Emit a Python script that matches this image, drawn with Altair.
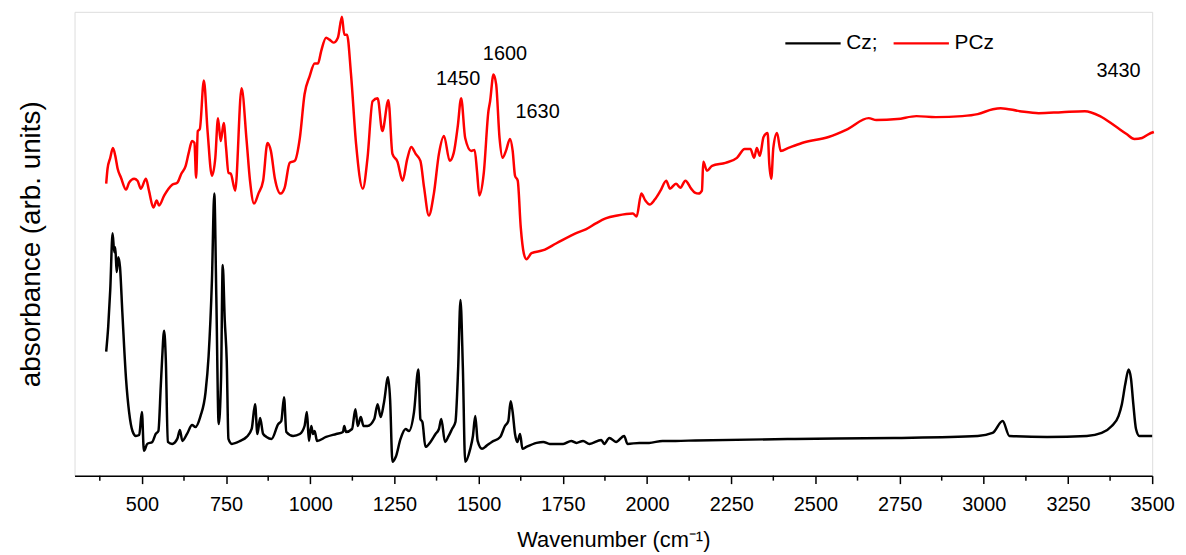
import altair as alt
import pandas as pd

# Cz (black) spectrum: wavenumber (cm-1) and absorbance (arb. units)
cz_wn = [394, 400, 406, 413, 418, 421, 425, 430, 435, 442, 453, 462, 472, 482, 492, 500, 506, 516, 531, 541,
         549, 556, 560, 566, 571, 577, 590, 605, 613, 620, 634, 649, 659, 674, 689, 698, 708, 715, 721, 728,
         735, 740, 746, 752, 757, 767, 792, 811, 826, 836, 843, 851, 860, 870, 885, 905, 914, 922, 929, 949,
         969, 983, 990, 996, 1003, 1008, 1013, 1020, 1047, 1077, 1097, 1101, 1106, 1124, 1134, 1141, 1150, 1158, 1170, 1190,
         1200, 1209, 1219, 1231, 1237, 1244, 1254, 1268, 1283, 1293, 1308, 1321, 1327, 1333, 1342, 1357, 1372, 1382, 1389, 1400,
         1411, 1421, 1431, 1439, 1446, 1453, 1460, 1475, 1483, 1490, 1497, 1510, 1523, 1539, 1564, 1578, 1588, 1595, 1601, 1608,
         1615, 1623, 1630, 1642, 1672, 1692, 1711, 1751, 1775, 1790, 1810, 1829, 1864, 1873, 1888, 1908, 1932, 1942, 1977, 2006,
         2046, 2085, 2144, 2439, 2734, 2982, 3026, 3056, 3076, 3188, 3306, 3350, 3380, 3400, 3410, 3420, 3430, 3437, 3444, 3452,
         3462, 3500]
cz_abs = [1.25, 1.50, 1.87, 2.44, 2.25, 2.30, 2.05, 2.20, 2.10, 1.64, 0.97, 0.64, 0.45, 0.40, 0.41, 0.64, 0.25, 0.32, 0.34, 0.42,
          0.45, 0.90, 1.17, 1.46, 1.17, 0.34, 0.32, 0.37, 0.46, 0.35, 0.42, 0.51, 0.49, 0.60, 0.84, 1.20, 1.97, 2.84, 1.80, 0.52,
          0.97, 2.12, 1.57, 1.15, 0.37, 0.32, 0.35, 0.39, 0.47, 0.72, 0.42, 0.58, 0.42, 0.39, 0.37, 0.52, 0.55, 0.79, 0.44, 0.40,
          0.42, 0.50, 0.64, 0.35, 0.50, 0.42, 0.45, 0.35, 0.39, 0.42, 0.44, 0.50, 0.44, 0.47, 0.67, 0.50, 0.59, 0.50, 0.50, 0.57,
          0.72, 0.59, 0.74, 0.99, 0.77, 0.14, 0.19, 0.37, 0.47, 0.45, 0.64, 1.07, 0.57, 0.54, 0.29, 0.34, 0.42, 0.47, 0.57, 0.34,
          0.40, 0.47, 0.54, 1.07, 1.77, 1.10, 0.14, 0.27, 0.40, 0.60, 0.35, 0.27, 0.30, 0.34, 0.39, 0.50, 0.55, 0.75, 0.64, 0.42,
          0.34, 0.42, 0.27, 0.29, 0.33, 0.34, 0.32, 0.32, 0.35, 0.33, 0.35, 0.32, 0.36, 0.32, 0.38, 0.34, 0.40, 0.32, 0.33, 0.33,
          0.35, 0.35, 0.355, 0.37, 0.38, 0.40, 0.43, 0.55, 0.40, 0.39, 0.40, 0.43, 0.50, 0.60, 0.72, 0.92, 1.07, 0.98, 0.72, 0.47,
          0.40, 0.40]

# PCz (red) spectrum
pcz_wn = [394, 398, 406, 414, 421, 428, 438, 453, 462, 477, 487, 497, 512, 521, 534, 544, 551, 566, 590, 605,
          617, 630, 639, 649, 656, 661, 666, 672, 684, 695, 708, 718, 726, 734, 743, 750, 757, 764, 777, 796,
          811, 821, 833, 846, 860, 873, 883, 895, 912, 924, 939, 954, 969, 983, 998, 1013, 1023, 1032, 1047, 1057,
          1069, 1082, 1094, 1101, 1109, 1121, 1136, 1156, 1170, 1185, 1200, 1214, 1232, 1244, 1259, 1274, 1288, 1300, 1313, 1327,
          1338, 1352, 1367, 1382, 1397, 1414, 1426, 1438, 1448, 1460, 1478, 1488, 1495, 1502, 1515, 1529, 1534, 1544, 1552, 1562,
          1571, 1581, 1593, 1601, 1608, 1616, 1625, 1634, 1642, 1657, 1692, 1731, 1795, 1818, 1848, 1877, 1912, 1958, 1969, 1983,
          1995, 2008, 2023, 2040, 2057, 2068, 2086, 2099, 2114, 2131, 2142, 2153, 2163, 2167, 2178, 2193, 2233, 2267, 2290, 2307,
          2318, 2326, 2335, 2346, 2358, 2363, 2369, 2375, 2386, 2397, 2420, 2460, 2539, 2596, 2658, 2681, 2743, 2800, 2857, 2936,
          2982, 3027, 3050, 3107, 3163, 3231, 3300, 3345, 3390, 3424, 3447, 3470, 3490, 3505]
pcz_abs = [2.94, 3.09, 3.20, 3.30, 3.22, 3.09, 3.00, 2.88, 2.95, 2.99, 2.97, 2.89, 2.99, 2.87, 2.70, 2.77, 2.72, 2.82, 2.93, 2.95,
           3.04, 3.12, 3.25, 3.37, 3.35, 3.00, 3.47, 3.49, 3.98, 3.47, 3.02, 3.20, 3.60, 3.37, 3.55, 3.30, 3.05, 3.04, 2.87, 3.90,
           3.37, 2.97, 2.74, 2.84, 2.97, 3.35, 3.27, 2.99, 2.84, 2.90, 3.15, 3.17, 3.40, 3.84, 4.02, 4.15, 4.15, 4.27, 4.41, 4.39,
           4.36, 4.41, 4.62, 4.44, 4.44, 4.04, 3.34, 2.89, 3.20, 3.77, 3.80, 3.47, 3.78, 3.24, 3.16, 2.97, 3.19, 3.31, 3.24, 3.17,
           2.90, 2.62, 2.84, 3.24, 3.42, 3.17, 3.25, 3.52, 3.80, 3.40, 3.27, 3.28, 3.07, 2.82, 3.04, 3.67, 3.77, 4.04, 3.94, 3.40,
           3.20, 3.27, 3.39, 3.27, 3.02, 2.97, 2.50, 2.24, 2.18, 2.24, 2.27, 2.34, 2.45, 2.48, 2.54, 2.59, 2.62, 2.64, 2.61, 2.84,
           2.77, 2.73, 2.78, 2.87, 2.97, 2.89, 2.94, 2.90, 2.97, 2.89, 2.85, 2.84, 2.87, 3.16, 3.07, 3.12, 3.15, 3.20, 3.29, 3.29,
           3.20, 3.30, 3.22, 3.41, 3.45, 3.14, 2.99, 3.30, 3.45, 3.27, 3.30, 3.35, 3.41, 3.49, 3.60, 3.58, 3.59, 3.62, 3.61, 3.62,
           3.64, 3.69, 3.70, 3.67, 3.65, 3.66, 3.67, 3.62, 3.52, 3.44, 3.39, 3.40, 3.44, 3.46]

# peak annotations
ann_text = ["1450", "1600", "1630", "3430"]
ann_wn = [1439, 1578, 1675, 3400]
ann_abs = [3.99, 4.25, 3.66, 4.07]

# axis ticks
major_ticks = [500, 750, 1000, 1250, 1500, 1750, 2000, 2250, 2500, 2750, 3000, 3250, 3500]
minor_ticks = [375, 625, 875, 1125, 1375, 1625, 1875, 2125, 2375, 2625, 2875, 3125, 3375]

FONT = "Liberation Sans"
W, H = 1085, 467

df = pd.concat([
    pd.DataFrame({"wn": cz_wn, "abs": cz_abs, "series": "Cz"}),
    pd.DataFrame({"wn": pcz_wn, "abs": pcz_abs, "series": "PCz"}),
], ignore_index=True)
ann_df = pd.DataFrame({"wn": ann_wn, "abs": ann_abs, "label": ann_text})
minor_df = pd.DataFrame({"wn": minor_ticks})

xenc = alt.X(
    "wn:Q",
    title="Wavenumber (cm\u207B\u00B9)",
    scale=alt.Scale(domain=[300, 3500], nice=False, zero=False),
    axis=alt.Axis(values=major_ticks, format="d", grid=False, tickSize=8, tickWidth=1.5,
                  domainWidth=1.5, domainColor="black", tickColor="black", labelColor="black",
                  labelFont=FONT, labelFontSize=20, labelPadding=11, labelFlush=False,
                  titleFont=FONT, titleFontSize=22, titleFontWeight="normal", titleColor="black",
                  titlePadding=15),
)
yscale = alt.Scale(domain=[0, 4.67], nice=False, zero=False)

lines = alt.Chart(df).mark_line(strokeWidth=2.5, interpolate="monotone", clip=False).encode(
    x=xenc,
    y=alt.Y("abs:Q", scale=yscale,
            axis=alt.Axis(title="absorbance (arb. units)", domain=False, ticks=False, labels=False,
                          grid=False, titleFont=FONT, titleFontSize=28, titleFontWeight="normal",
                          titleColor="black", titlePadding=29)),
    color=alt.Color("series:N",
                    scale=alt.Scale(domain=["Cz", "PCz"], range=["#000000", "#ff0000"]),
                    legend=alt.Legend(title=None, orient="none", legendX=714, legendY=2,
                                      direction="horizontal", symbolType="stroke", symbolSize=3100,
                                      symbolStrokeWidth=2.5, labelFont=FONT, labelFontSize=21,
                                      labelColor="black", labelOffset=4, columnPadding=10,
                                      labelExpr="datum.label == 'Cz' ? 'Cz;' : datum.label")),
    detail="series:N",
)

minor = alt.Chart(minor_df).mark_rule(color="black", strokeWidth=1.5).encode(
    x=xenc,
    y=alt.value(H),
    y2=alt.value(H + 5),
)

labels = alt.Chart(ann_df).mark_text(font=FONT, fontSize=20, color="black", align="center",
                                     baseline="middle").encode(
    x=xenc,
    y=alt.Y("abs:Q", scale=yscale),
    text="label:N",
)

chart = alt.layer(lines, minor, labels).properties(
    width=W, height=H,
    autosize=alt.AutoSizeParams(type="none"),
    padding={"left": 67, "top": 2, "right": 26, "bottom": 78},
).configure_view(stroke=None).configure(background="white")

chart.save("out.html", embed_options={"renderer": "svg", "actions": False})
